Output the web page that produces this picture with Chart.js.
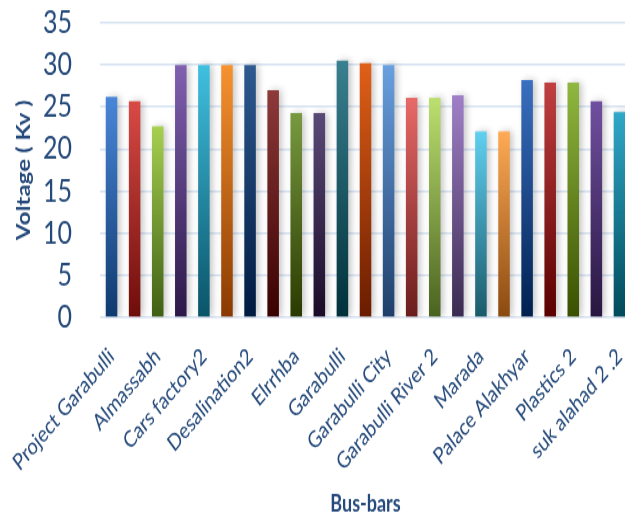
<!DOCTYPE html>
<html lang="en">
<head>
  <meta charset="UTF-8">
  <script src="https://cdn.jsdelivr.net/npm/chart.js"></script>
  <title>Bus-bar Voltage</title>
  <style>
    html, body { margin: 0; padding: 0; background: #fff; overflow: hidden; }
    #wrap { width: 625px; height: 518px; overflow: hidden; }
    /* the chart is laid out short and stretched tall, like the exported figure */
    #voltChart { display: block; transform: scaleY(1.2696); transform-origin: 0 0; }
  </style>
</head>
<body>
<div id="wrap">
  <canvas id="voltChart" width="631" height="408"></canvas>
</div>

<script>
  // only every other bus-bar gets a printed name on the axis
  const busBars = [
    'Project Garabulli', '', 'Almassabh', '', 'Cars factory2', '', 'Desalination2', '',
    'Elrrhba', '', 'Garabulli', '', 'Garabulli City', '', 'Garabulli River 2', '',
    'Marada', '', 'Palace Alakhyar', '', 'Plastics 2', '', 'suk alahad 2 .2'
  ];
  const voltages = [
    26.2, 25.7, 22.7, 30.0, 30.0, 30.0, 30.0, 27.0, 24.3, 24.3, 30.5, 30.2,
    30.0, 26.1, 26.1, 26.4, 22.1, 22.1, 28.2, 27.9, 27.9, 25.7, 24.4
  ];
  const yTicks = [0, 5, 10, 15, 20, 25, 30, 35];

  // gradient ends for each bar (light at top, dark at base)
  const topColors = [
    '#4a86d8', '#d94a45', '#a6d050', '#8060b0', '#40c0e0', '#f79230',
    '#2e5a90', '#8e3a3a', '#789a40', '#5a4a78', '#3a8090', '#e06018',
    '#6aa0e0', '#e86a68', '#bce070', '#a080c8', '#60d0f0', '#ffaa55',
    '#3a70c0', '#c04040', '#90b840', '#7050a0', '#30a8c8'
  ];
  const bottomColors = [
    '#0f3a6e', '#6e0d0a', '#3f5f14', '#2c1848', '#0a5468', '#8a3a00',
    '#001a40', '#3a0000', '#2a3a00', '#1a0c28', '#00303a', '#6a1c00',
    '#1f3f6a', '#6a1c1c', '#4a6220', '#3a2a50', '#1a5a6a', '#8a4a10',
    '#002050', '#5a0000', '#3a5000', '#281640', '#004a5a'
  ];

  const textBlue = '#24497a';

  function barFill(ctx) {
    const i = ctx.dataIndex;
    const chart = ctx.chart;
    const area = chart.chartArea;
    if (!area || ctx.type !== 'data') return topColors[i];
    const yTop = chart.scales.y.getPixelForValue(voltages[i]);
    const g = chart.ctx.createLinearGradient(0, yTop, 0, area.bottom);
    g.addColorStop(0, topColors[i]);
    g.addColorStop(1, bottomColors[i]);
    return g;
  }

  // soft grey shadow behind the bars
  const barShadow = {
    id: 'barShadow',
    beforeDatasetsDraw(chart) {
      const c = chart.ctx;
      c.save();
      c.shadowColor = 'rgba(0,0,0,0.22)';
      c.shadowBlur = 6;
      c.shadowOffsetX = 3;
      c.shadowOffsetY = 0;
    },
    afterDatasetsDraw(chart) {
      chart.ctx.restore();
    }
  };

  new Chart(document.getElementById('voltChart'), {
    type: 'bar',
    data: {
      labels: busBars,
      datasets: [{
        data: voltages,
        backgroundColor: barFill,
        borderWidth: 0,
        categoryPercentage: 1,
        barPercentage: 0.5
      }]
    },
    plugins: [barShadow],
    options: {
      responsive: false,
      animation: false,
      layout: { padding: { top: 18, right: 0, bottom: 0, left: 0 } },
      plugins: {
        legend: { display: false },
        tooltip: { enabled: false }
      },
      scales: {
        x: {
          grid: { display: false },
          border: { display: false },
          ticks: {
            autoSkip: false,
            maxRotation: 43,
            minRotation: 43,
            padding: 12,
            color: textBlue,
            font: { family: 'Lato', size: 18 }
          },
          title: {
            display: true,
            text: 'Bus-bars',
            color: textBlue,
            font: { family: 'Lato', size: 18, weight: 'bold' },
            padding: { top: 4, bottom: 0 }
          },
          afterFit(scale) {
            scale.height = 158;
            scale.paddingLeft = 0;
            scale.paddingRight = 0;
          }
        },
        y: {
          min: 0,
          max: 35,
          afterBuildTicks(scale) { scale.ticks = yTicks.map(v => ({ value: v })); },
          grid: { color: '#d5e2f2', lineWidth: 1.6, drawTicks: false },
          border: { display: false },
          ticks: {
            padding: 28,
            color: textBlue,
            font: { family: 'Lato', size: 25 }
          },
          title: {
            display: true,
            text: 'Voltage ( Kv )',
            color: textBlue,
            font: { family: 'Lato', size: 19, weight: 'bold' },
            padding: { top: 12, bottom: 0 }
          },
          afterFit(scale) {
            scale.width = 100;
            scale.paddingTop = 0;
            scale.paddingBottom = 0;
          }
        }
      }
    }
  });
</script>
</body>
</html>
